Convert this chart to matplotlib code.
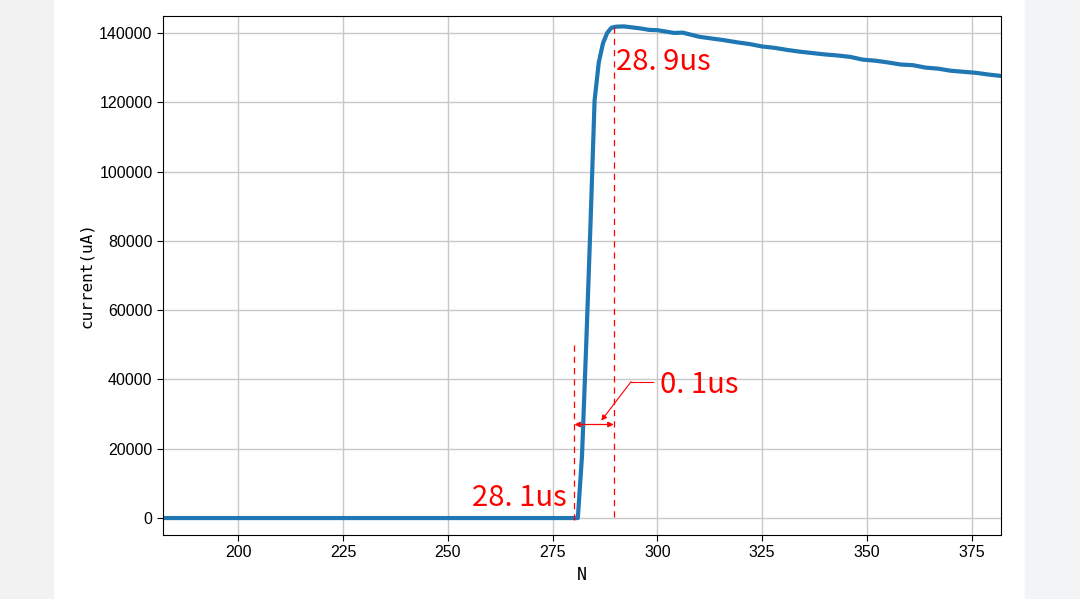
import numpy as np
import matplotlib
matplotlib.use('Agg')
import matplotlib.pyplot as plt
from matplotlib.patches import Rectangle

plt.rcParams['font.family'] = ['Noto Sans CJK SC', 'DejaVu Sans']

# Отсчёты N и ток (мкА)
n_vals = [180, 281, 282, 283, 284, 285, 286, 287, 288, 289, 290, 292, 294,
          296, 298, 300, 302, 304, 306, 308, 310, 313, 316, 319, 322, 325,
          328, 331, 334, 337, 340, 343, 346, 349, 352, 355, 358, 361, 364,
          367, 370, 373, 376, 379, 382, 384]
current = [0, 0, 18000, 50000, 84000, 120500, 131500, 137000, 140000, 141500,
           141800, 141900, 141600, 141300, 140900, 140800, 140400, 140000,
           140100, 139500, 138900, 138400, 137900, 137300, 136800, 136100,
           135700, 135100, 134600, 134200, 133800, 133500, 133100, 132300,
           132000, 131500, 130900, 130700, 130000, 129700, 129100, 128800,
           128500, 128000, 127600, 127300]

# Метки времени
t_start = 280.2
t_end = 289.55
label_start = '28. 1us'
label_end = '28. 9us'
label_delta = '0. 1us'

fig = plt.figure(figsize=(10.8, 5.99), dpi=100)

# размытые полосы по краям скриншота
fig.patches.append(Rectangle((0, 0), 53 / 1080, 1, transform=fig.transFigure,
                             color='#f2f2f2', zorder=-1))
fig.patches.append(Rectangle((1025 / 1080, 0), 55 / 1080, 1, transform=fig.transFigure,
                             color='#f3f4f6', zorder=-1))

ax = fig.add_axes([0.1509, 0.1068, 0.776, 0.8665])
ax.plot(n_vals, current, color='#1f77b4', linewidth=3)
ax.set_xlim(182, 382)
ax.set_ylim(-4900, 144900)
ax.set_xticks([200, 225, 250, 275, 300, 325, 350, 375])
ax.set_yticks(np.arange(0, 140001, 20000))
ax.grid(True, color='#c8c8c8', linewidth=1)
ax.tick_params(labelsize=11.5, length=4)
for lbl in ax.get_xticklabels() + ax.get_yticklabels():
    lbl.set_family(['Liberation Sans'])
ax.set_xlabel('N', fontsize=12, family=['DejaVu Sans Mono'])
ax.set_ylabel('current(uA)', fontsize=11.5, family=['DejaVu Sans Mono'])

# Аннотации
ax.plot([t_start, t_start], [50000, -1000], color='red', linestyle='--', linewidth=0.9, dashes=(5, 4))
ax.plot([t_end, t_end], [141700, 0], color='red', linestyle='--', linewidth=0.9, dashes=(5, 4))
ax.annotate('', xy=(t_start, 27000), xytext=(t_end, 27000),
            arrowprops=dict(arrowstyle='<|-|>', color='red', lw=0.9,
                            mutation_scale=8, shrinkA=0, shrinkB=0))
ax.annotate('', xy=(286.6, 28100), xytext=(293.7, 39350),
            arrowprops=dict(arrowstyle='-|>', color='red', lw=0.8,
                            mutation_scale=8, shrinkA=0, shrinkB=0))
ax.plot([293.7, 299.0], [39350, 39350], color='red', linewidth=0.8)

ax.text(278.3, 3550, label_start, color='red', fontsize=21, ha='right', va='baseline')
ax.text(290.0, 129300, label_end, color='red', fontsize=21, ha='left', va='baseline')
ax.text(300.5, 36170, label_delta, color='red', fontsize=21, ha='left', va='baseline')

fig.savefig('out.png', dpi=100)
